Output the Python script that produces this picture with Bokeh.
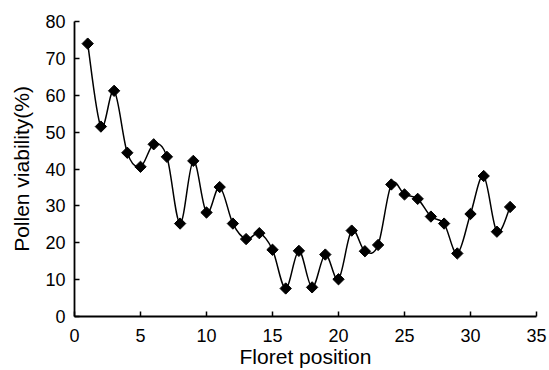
import numpy as np
from bokeh.plotting import figure
from bokeh.models import FixedTicker, Range1d
from bokeh.embed import file_html
from bokeh.resources import INLINE

floret_position = list(range(1, 34))
pollen_viability = [74.0, 51.5, 61.2, 44.4, 40.6, 46.7, 43.3, 25.2, 42.2, 28.2,
                    35.1, 25.2, 21.0, 22.6, 18.1, 7.6, 17.8, 7.9, 16.8, 10.1,
                    23.3, 17.7, 19.4, 35.8, 33.1, 31.9, 27.1, 25.2, 17.1, 27.8,
                    38.1, 23.0, 29.7]
x_ticks = [0, 5, 10, 15, 20, 25, 30, 35]
y_ticks = [0, 10, 20, 30, 40, 50, 60, 70, 80]

FONT = "Liberation Sans"

p = figure(width=549, height=370, output_backend="svg", toolbar_location=None,
           x_range=Range1d(0, 35), y_range=Range1d(0, 80),
           min_border_left=74, min_border_right=13, min_border_top=21, min_border_bottom=54)
p.outline_line_color = None
p.xgrid.visible = False
p.ygrid.visible = False
p.background_fill_color = "white"
p.border_fill_color = "white"

# Smoothed line (Catmull-Rom style Bezier, as in spreadsheet "smooth line")
x = np.array(floret_position, dtype=float)
y = np.array(pollen_viability, dtype=float)
xp = np.concatenate([[x[0]], x, [x[-1]]])
yp = np.concatenate([[y[0]], y, [y[-1]]])
n = len(x)
x0 = x[:-1]; y0 = y[:-1]; x1 = x[1:]; y1 = y[1:]
cx0 = x0 + (xp[2:n+1] - xp[0:n-1]) / 6.0
cy0 = y0 + (yp[2:n+1] - yp[0:n-1]) / 6.0
cx1 = x1 - (xp[3:n+2] - xp[1:n]) / 6.0
cy1 = y1 - (yp[3:n+2] - yp[1:n]) / 6.0
p.bezier(x0=x0, y0=y0, x1=x1, y1=y1, cx0=cx0, cy0=cy0, cx1=cx1, cy1=cy1,
         line_color="black", line_width=1.5)

p.scatter(floret_position, pollen_viability, marker="square", angle=np.pi / 4,
          size=8, fill_color="black", line_color="black")

for ax in (p.xaxis, p.yaxis):
    ax.axis_line_color = "black"
    ax.axis_line_width = 1.8
    ax.major_tick_line_color = "black"
    ax.major_tick_line_width = 1.5
    ax.major_tick_in = 5
    ax.major_tick_out = 0
    ax.minor_tick_line_color = None
    ax.major_label_text_font = FONT
    ax.major_label_text_font_size = "18px"
    ax.major_label_text_color = "black"
    ax.axis_label_text_font = FONT
    ax.axis_label_text_font_size = "21px"
    ax.axis_label_text_font_style = "normal"
    ax.axis_label_text_color = "black"

p.xaxis.ticker = FixedTicker(ticks=x_ticks)
p.yaxis.ticker = FixedTicker(ticks=y_ticks)
p.xaxis.axis_label = "Floret position"
p.yaxis.axis_label = "Pollen viability(%)"
p.xaxis.major_label_standoff = 12
p.xaxis.axis_label_standoff = 0
p.yaxis.major_label_standoff = 9
p.yaxis.axis_label_standoff = 9

open("out.html", "w").write(file_html(p, INLINE))
